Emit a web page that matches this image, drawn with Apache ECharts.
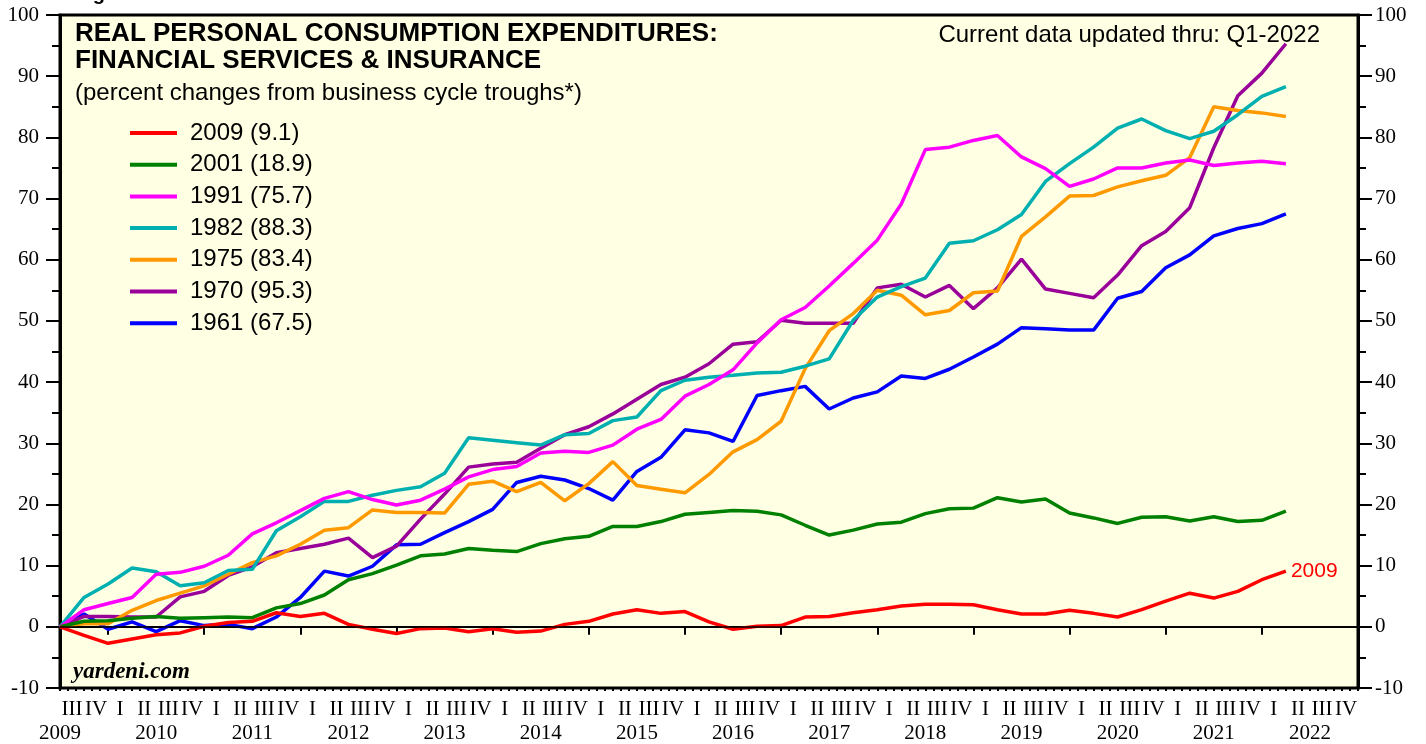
<!DOCTYPE html>
<html>
<head>
<meta charset="utf-8">
<script src="https://cdn.jsdelivr.net/npm/echarts@6/dist/echarts.min.js"></script>
<style>
  html, body { margin: 0; padding: 0; background: #fff; }
  #main { width: 1426px; height: 744px; }
</style>
</head>
<body>
<div id="main"></div>
<script>
// quarters since trough (trough quarter = 0), last point = Q1-2022
const years = [2009, 2010, 2011, 2012, 2013, 2014, 2015, 2016, 2017, 2018, 2019, 2020, 2021, 2022];
const quarterNames = ['I', 'II', 'III', 'IV'];

const cycle2009 = [0, -1.4, -2.7, -2.0, -1.3, -1.0, 0.1, 0.7, 0.9, 2.3,
  1.7, 2.2, 0.4, -0.4, -1.1, -0.3, -0.2, -0.8, -0.3, -0.9,
  -0.7, 0.4, 0.9, 2.1, 2.8, 2.2, 2.5, 0.8, -0.4, 0.1,
  0.2, 1.6, 1.7, 2.3, 2.8, 3.4, 3.7, 3.7, 3.6, 2.8,
  2.1, 2.1, 2.7, 2.2, 1.6, 2.8, 4.2, 5.5, 4.7, 5.8,
  7.7, 9.1];
const cycle2001 = [0, 0.9, 1.0, 1.4, 1.7, 1.4, 1.5, 1.6, 1.5, 3.1,
  3.8, 5.2, 7.7, 8.7, 10.1, 11.6, 11.9, 12.8, 12.5, 12.3,
  13.6, 14.4, 14.8, 16.4, 16.4, 17.2, 18.4, 18.7, 19.0, 18.9,
  18.3, 16.6, 15.0, 15.8, 16.8, 17.1, 18.5, 19.3, 19.4, 21.1,
  20.4, 20.9, 18.6, 17.8, 16.9, 17.9, 18.0, 17.3, 18.0, 17.2,
  17.4, 18.9];
const cycle1991 = [0, 2.8, 3.8, 4.8, 8.6, 8.9, 9.9, 11.7, 15.2, 17.0,
  19.0, 21.0, 22.1, 20.8, 19.9, 20.7, 22.5, 24.5, 25.7, 26.2,
  28.4, 28.7, 28.5, 29.7, 32.3, 33.9, 37.7, 39.6, 42.0, 46.4,
  50.2, 52.2, 55.7, 59.4, 63.2, 69.1, 78.0, 78.4, 79.5, 80.3,
  76.8, 74.9, 72.0, 73.2, 75.0, 75.0, 75.8, 76.3, 75.4, 75.8,
  76.1, 75.7];
const cycle1982 = [0, 4.8, 7.0, 9.6, 9.0, 6.7, 7.2, 9.2, 9.4, 15.7,
  18.0, 20.5, 20.5, 21.5, 22.3, 22.9, 25.1, 30.9, 30.5, 30.1,
  29.7, 31.4, 31.6, 33.7, 34.3, 38.6, 40.3, 40.8, 41.1, 41.5,
  41.6, 42.6, 43.8, 50.1, 53.9, 55.6, 57.0, 62.7, 63.1, 64.9,
  67.4, 72.8, 75.7, 78.4, 81.5, 83.0, 81.1, 79.8, 81.0, 83.7,
  86.7, 88.3];
const cycle1975 = [0, 0.5, 0.5, 2.7, 4.3, 5.5, 6.7, 8.6, 10.5, 11.6,
  13.5, 15.8, 16.2, 19.1, 18.7, 18.7, 18.6, 23.3, 23.8, 22.1,
  23.6, 20.6, 23.4, 27.0, 23.1, 22.5, 21.9, 24.9, 28.6, 30.6,
  33.6, 42.2, 48.4, 51.2, 55.0, 54.2, 51.0, 51.7, 54.6, 54.9,
  63.8, 67.0, 70.4, 70.5, 71.9, 72.9, 73.8, 76.7, 85.0, 84.4,
  84.0, 83.4];
const cycle1970 = [0, 1.7, 1.7, 1.6, 1.6, 4.9, 5.8, 8.4, 9.8, 12.1,
  12.8, 13.5, 14.5, 11.3, 13.2, 17.6, 21.7, 26.1, 26.6, 26.9,
  29.2, 31.4, 32.7, 34.8, 37.2, 39.6, 40.8, 43.0, 46.2, 46.6,
  50.1, 49.6, 49.6, 49.6, 55.4, 56.0, 53.9, 55.8, 52.0, 55.4,
  60.1, 55.2, 54.5, 53.8, 57.5, 62.3, 64.6, 68.5, 78.3, 86.8,
  90.5, 95.3];
const cycle1961 = [0, 2.1, -0.4, 0.8, -0.8, 1.0, 0.2, 0.4, -0.3, 1.6,
  4.8, 9.1, 8.3, 9.9, 13.4, 13.5, 15.4, 17.2, 19.2, 23.6,
  24.6, 24.0, 22.6, 20.7, 25.4, 27.7, 32.2, 31.7, 30.3, 37.8,
  38.6, 39.3, 35.6, 37.4, 38.4, 41.0, 40.6, 42.1, 44.1, 46.2,
  48.9, 48.7, 48.5, 48.5, 53.7, 54.8, 58.7, 60.8, 63.9, 65.1,
  65.9, 67.5];

const cycles = [
  { year: '2009', data: cycle2009, color: '#ff0000' },
  { year: '2001', data: cycle2001, color: '#008000' },
  { year: '1991', data: cycle1991, color: '#ff00ff' },
  { year: '1982', data: cycle1982, color: '#00b0b0' },
  { year: '1975', data: cycle1975, color: '#ff9900' },
  { year: '1970', data: cycle1970, color: '#990099' },
  { year: '1961', data: cycle1961, color: '#0000ff' }
];

// axis runs from start of 2009 Q3 to end of 2022 Q4
const quarterCats = [];
years.forEach((y, yi) => quarterNames.forEach((q, k) => {
  if (yi === 0 && k < 2) return;
  quarterCats.push(y + ' ' + q);
}));
const monthCats = [];
quarterCats.forEach(q => { for (let m = 0; m < 3; m++) monthCats.push(q + m); });

const serif = '"Liberation Serif", "DejaVu Serif", serif';
const sans = '"Liberation Sans", Arial, sans-serif';

const myChart = echarts.init(document.getElementById('main'));

const seriesList = cycles.map(c => {
  const name = c.year + ' (' + c.data[c.data.length - 1].toFixed(1) + ')';
  const s = {
    name: name,
    type: 'line',
    xAxisIndex: 0,
    yAxisIndex: 0,
    data: c.data.map((v, i) => [i, v]),
    showSymbol: false,
    symbol: 'none',
    lineStyle: { color: c.color, width: 3.5 },
    itemStyle: { color: c.color },
    animation: false,
    z: 3
  };
  if (c.year === '2009') {
    s.endLabel = {
      show: true,
      formatter: '2009',
      color: '#ff0000',
      fontFamily: sans,
      fontSize: 21,
      distance: 5
    };
    s.markLine = {
      silent: true,
      symbol: 'none',
      label: { show: false },
      lineStyle: { color: '#000', width: 1.5, type: 'solid' },
      data: [{ yAxis: 0 }],
      animation: false
    };
  }
  return s;
});
// draw older cycles first so 2009 ends on top
seriesList.reverse();

const yAxisBase = {
  type: 'value',
  min: -10,
  max: 100,
  interval: 10,
  splitLine: { show: false },
  axisLine: { show: true, lineStyle: { color: '#000', width: 3 } },
  axisTick: { show: true, length: 14, lineStyle: { color: '#000', width: 2 } },
  minorTick: { show: true, splitNumber: 2, length: 8, lineStyle: { color: '#000', width: 2 } },
  axisLabel: { color: '#000', fontFamily: serif, fontSize: 21 }
};

const option = {
  backgroundColor: '#ffffff',
  animation: false,
  grid: {
    left: 60, right: 68, top: 15, bottom: 56,
    show: true,
    backgroundColor: '#ffffe3',
    borderColor: '#000',
    borderWidth: 3
  },
  legend: {
    data: seriesList.map(s => s.name).reverse(),
    orient: 'vertical',
    left: 125,
    top: 116,
    icon: 'rect',
    itemWidth: 47,
    itemHeight: 4,
    itemGap: 7.7,
    selectedMode: false,
    textStyle: { color: '#000', fontFamily: sans, fontSize: 24, lineHeight: 24, padding: [0, 0, 0, 8] }
  },
  xAxis: [
    {
      // data axis + year labels
      type: 'value',
      min: 0,
      max: 54,
      interval: 4,
      splitLine: { show: false },
      axisLine: { show: false },
      axisTick: { show: false },
      axisLabel: {
        margin: 35,
        color: '#000',
        fontFamily: serif,
        fontSize: 21,
        formatter: v => (v % 4 === 0 && years[v / 4] !== undefined) ? String(years[v / 4]) : ''
      }
    },
    {
      // quarter labels + year boundary ticks
      type: 'category',
      data: quarterCats,
      boundaryGap: true,
      position: 'bottom',
      axisLine: { show: true, lineStyle: { color: '#000', width: 2 } },
      axisTick: {
        show: true,
        length: 8,
        interval: (idx) => idx % 4 === 2,
        lineStyle: { color: '#000', width: 2 }
      },
      axisLabel: {
        interval: 0,
        margin: 11,
        color: '#000',
        fontFamily: serif,
        fontSize: 21,
        formatter: v => v.split(' ')[1]
      }
    },
    {
      // monthly minor ticks
      type: 'category',
      data: monthCats,
      boundaryGap: true,
      position: 'bottom',
      axisLine: { show: false },
      axisTick: { show: true, length: 3, interval: 0, lineStyle: { color: '#000', width: 2 } },
      axisLabel: { show: false }
    }
  ],
  yAxis: [
    Object.assign({}, yAxisBase, { position: 'left', axisLabel: Object.assign({}, yAxisBase.axisLabel, { margin: 21 }) }),
    Object.assign({}, yAxisBase, { position: 'right', axisLabel: Object.assign({}, yAxisBase.axisLabel, { margin: 17 }) })
  ],
  graphic: [
    { type: 'text', x: 75, y: -16, style: { text: 'Figure', font: 'bold 20px ' + sans, fill: '#000' } },
    { type: 'text', x: 75, y: 34, style: { text: 'REAL PERSONAL CONSUMPTION EXPENDITURES:', font: 'bold 26px ' + sans, fill: '#000', verticalAlign: 'middle' } },
    { type: 'text', x: 75, y: 61, style: { text: 'FINANCIAL SERVICES & INSURANCE', font: 'bold 26px ' + sans, fill: '#000', verticalAlign: 'middle' } },
    { type: 'text', x: 75, y: 93, style: { text: '(percent changes from business cycle troughs*)', font: '24px ' + sans, fill: '#000', verticalAlign: 'middle' } },
    { type: 'text', x: 1320, y: 35, style: { text: 'Current data updated thru: Q1-2022', font: '24px ' + sans, fill: '#000', align: 'right', verticalAlign: 'middle' } },
    { type: 'text', x: 73, y: 672, style: { text: 'yardeni.com', font: 'italic bold 23px ' + serif, fill: '#000', verticalAlign: 'middle' } }
  ],
  series: seriesList
};

myChart.setOption(option);
</script>
</body>
</html>
